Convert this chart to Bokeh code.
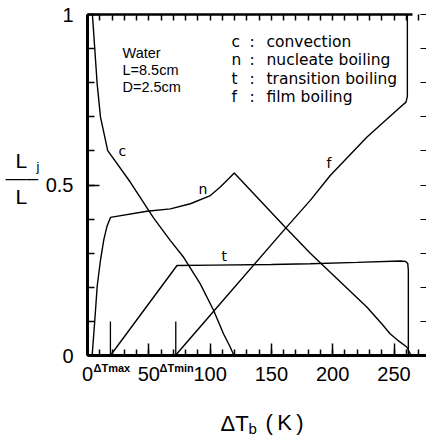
from bokeh.plotting import figure
from bokeh.models import Range1d, FixedTicker, LinearAxis, Label
from bokeh.embed import file_html
from bokeh.resources import INLINE

# ---- data ----
c_T = [4, 5.1, 7.9, 10.6, 16.5, 35, 54, 67.6, 78.4, 92, 102.9, 111, 116, 119.5]
c_y = [1.0, 0.943, 0.796, 0.699, 0.601, 0.508, 0.403, 0.337, 0.288, 0.21, 0.132, 0.063, 0.028, 0.0]

n_T = [3.8, 6, 7.9, 10.6, 13.3, 16, 18.7, 48.5, 67.6, 83.9, 100.2, 108.3, 115.1, 119.7,
       161.3, 181.7, 227.8, 240, 246.8, 254, 260.4, 264]
n_y = [0.0, 0.105, 0.203, 0.28, 0.34, 0.38, 0.405, 0.423, 0.43, 0.445, 0.469, 0.494, 0.518, 0.535,
       0.376, 0.30, 0.142, 0.093, 0.064, 0.042, 0.025, 0.0]

t_T = [18.7, 73, 103, 150, 181.7, 220, 255, 259.5, 261.2, 261.7, 261.7]
t_y = [0.0, 0.264, 0.265, 0.267, 0.269, 0.273, 0.277, 0.276, 0.27, 0.25, 0.0]

f_T = [71.7, 102.9, 161.3, 181.7, 198, 227.8, 245, 255, 259.8, 260.9, 260.9]
f_y = [0.0, 0.13, 0.372, 0.455, 0.528, 0.64, 0.696, 0.728, 0.743, 0.76, 1.0]

dT_max = 18.7
dT_min = 72
marker_h = 0.1

x_ticks = [0, 50, 100, 150, 200, 250]
x_minor = list(range(0, 271, 10))
y_ticks = [0, 0.5, 1]
y_minor = [round(0.1 * i, 1) for i in range(11)]
y_tick_labels = {0: "0", 0.5: "0.5", 1: "1"}

legend_keys = ["c", "n", "t", "f"]
legend_names = ["convection", "nucleate boiling", "transition boiling", "film boiling"]
info_lines = ["Water", "L=8.5cm", "D=2.5cm"]

# ---- page geometry: data (0,0) at page pixel (87,355), 1 at y=14 ----
W, H = 426, 438
S = 1.226          # pixels per K
X0, Y0, YS = 87, 355, 341


def X(px):
    return (px - X0) / S


def Y(py):
    return (Y0 - py) / YS


p = figure(width=W, height=H, x_range=Range1d(X(0), X(W)), y_range=Range1d(Y(H), Y(0)),
           output_backend="svg", toolbar_location=None,
           min_border_left=0, min_border_right=0, min_border_top=0, min_border_bottom=0)
p.outline_line_color = None
p.xgrid.visible = False
p.ygrid.visible = False
p.background_fill_color = "white"
p.border_fill_color = "white"

# bottom axis
xa = p.xaxis[0]
xa.fixed_location = 0
xa.bounds = (0, X(W))
xa.ticker = FixedTicker(ticks=x_ticks, minor_ticks=x_minor)
xa.axis_line_width = 3
xa.major_tick_in = 12
xa.major_tick_out = 0
xa.minor_tick_in = 6
xa.minor_tick_out = 0
xa.major_tick_line_width = 1.5
xa.minor_tick_line_width = 1.5
xa.major_label_text_font = "Liberation Sans"
xa.major_label_text_font_size = "20px"
xa.major_label_text_color = "black"
xa.major_label_standoff = 11

# left axis
ya = p.yaxis[0]
ya.fixed_location = 0
ya.bounds = (0, 1)
ya.ticker = FixedTicker(ticks=y_ticks, minor_ticks=y_minor)
ya.major_label_overrides = y_tick_labels
ya.axis_line_width = 3
ya.major_tick_in = 12
ya.major_tick_out = 0
ya.minor_tick_in = 7
ya.minor_tick_out = 0
ya.major_tick_line_width = 1.5
ya.minor_tick_line_width = 1.5
ya.major_label_text_font = "Liberation Sans"
ya.major_label_text_font_size = "20px"
ya.major_label_text_color = "black"
ya.major_label_standoff = 14

# top axis (ticks only)
ta = LinearAxis(fixed_location=1, bounds=(0, X(412)),
                ticker=FixedTicker(ticks=[], minor_ticks=x_minor))
ta.axis_line_width = 2.5
ta.minor_tick_in = 6
ta.minor_tick_out = 0
ta.minor_tick_line_width = 1.5
p.add_layout(ta, "above")

# right axis (ticks only)
ra = LinearAxis(fixed_location=X(426), bounds=(0, 1),
                ticker=FixedTicker(ticks=[], minor_ticks=y_minor))
ra.axis_line_color = None
ra.minor_tick_in = 6
ra.minor_tick_out = 0
ra.minor_tick_line_width = 1.2
p.add_layout(ra, "right")

# curves
for T, Y_ in [(c_T, c_y), (n_T, n_y), (t_T, t_y), (f_T, f_y)]:
    p.line(T, Y_, line_color="black", line_width=1.4)

p.segment(x0=[dT_max, dT_min], y0=[0, 0], x1=[dT_max, dT_min], y1=[marker_h, marker_h],
          line_color="black", line_width=1.3)


def lab(px, py, text, size, font="DejaVu Sans", style="normal", align="left"):
    # py is the wanted baseline in page pixels; compensate the renderer's baseline offset
    adj = py - 0.34 * size
    p.add_layout(Label(x=X(px), y=Y(adj), text=text, text_font=font, text_font_size=f"{size}px",
                       text_font_style=style, text_align=align, text_baseline="alphabetic",
                       text_color="black"))


# info block
for i, s in enumerate(info_lines):
    lab(122, 57 + i * 17.3, s, 14.5, font="Liberation Sans")

# legend block
for i, (k, s) in enumerate(zip(legend_keys, legend_names)):
    yb = 47 + i * 18.2
    lab(231, yb, k, 15.5)
    lab(249, yb, ":", 15.5)
    lab(266, yb, s, 15.5)

# curve labels
lab(118, 155, "c", 14)
lab(198, 193, "n", 14)
lab(221, 260, "t", 14)
lab(326, 167, "f", 14)

# ΔTmax / ΔTmin
lab(93, 371, "ΔTmax", 11, font="Liberation Sans", style="bold")
lab(159, 371, "ΔTmin", 11, font="Liberation Sans", style="bold")

# x-axis title
lab(220, 430, "ΔT", 22, font="Liberation Sans")
lab(248, 433, "b", 15, font="Liberation Sans")
lab(265, 429, "(\u2009K\u2009)", 22, font="Liberation Sans")

# y-axis title (fraction)
lab(15, 167, "L", 21, font="Liberation Sans")
lab(36, 170, "j", 13, font="Liberation Sans")
lab(5, 184, "\u2014\u2013", 21, font="Liberation Sans")
lab(15, 203, "L", 21, font="Liberation Sans")

open("out.html", "w").write(file_html(p, INLINE))
